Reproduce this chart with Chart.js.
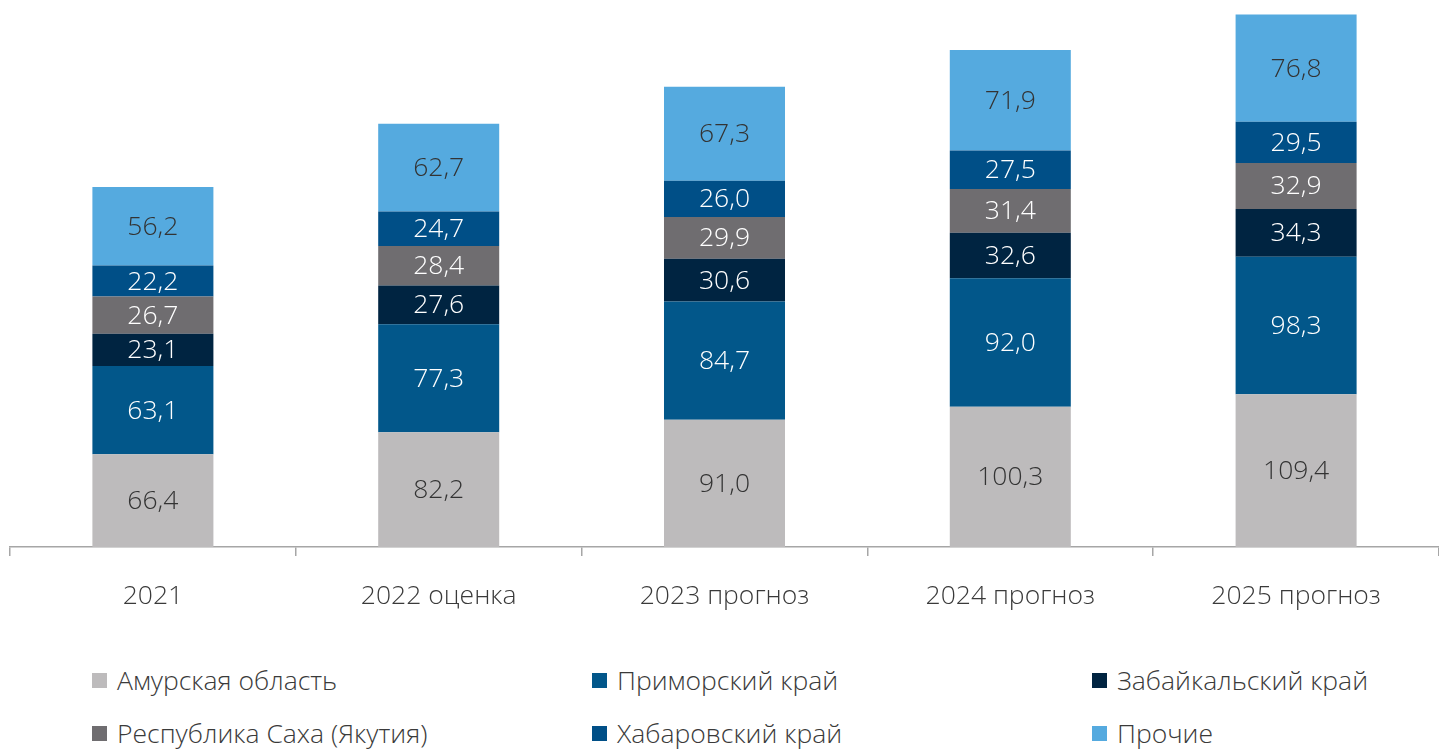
<!DOCTYPE html>
<html lang="ru">
<head>
<meta charset="utf-8">
<title>Регионы</title>
<script src="https://cdn.jsdelivr.net/npm/chart.js@4.4.1/dist/chart.umd.min.js"></script>
<style>
    html, body { margin: 0; padding: 0; background: #fff; }
    body { width: 1439px; height: 750px; position: relative; overflow: hidden;
           font-family: "Open Sans", sans-serif; font-weight: 300; }
    #wrap { position: absolute; left: 0; top: 0; width: 1439px; height: 640px; }
    #legend { position: absolute; left: 0; top: 654px; width: 1439px; }
    .item { position: absolute; display: flex; align-items: center; height: 40px;
            font-size: 26.5px; color: #3a3a3a; white-space: nowrap; }
    .item span.box { width: 15px; height: 15px; margin-right: 10px; flex: none; }
</style>
</head>
<body>
<div id="wrap"><canvas id="grafica"></canvas></div>
<div id="legend"></div>
<script>
// --- данные ---
const years = ["2021", "2022 оценка", "2023 прогноз", "2024 прогноз", "2025 прогноз"];

const amur       = [66.4, 82.2, 91.0, 100.3, 109.4];
const primorye   = [63.1, 77.3, 84.7, 92.0, 98.3];
const zabaikal   = [23.1, 27.6, 30.6, 32.6, 34.3];
const yakutia    = [26.7, 28.4, 29.9, 31.4, 32.9];
const khabarovsk = [22.2, 24.7, 26.0, 27.5, 29.5];
const others     = [56.2, 62.7, 67.3, 71.9, 76.8];

const seriesNames = ["Амурская область", "Приморский край", "Забайкальский край",
                     "Республика Саха (Якутия)", "Хабаровский край", "Прочие"];

const colors = ["#BDBBBC", "#02578A", "#002441", "#6F6D70", "#004F87", "#55AADF"];
const labelColors = ["#333333", "#ffffff", "#ffffff", "#ffffff", "#ffffff", "#333333"];

const FONT = "'Open Sans', sans-serif";

// подписи значений внутри сегментов
const segmentLabels = {
    id: "segmentLabels",
    afterDatasetsDraw(chart) {
        const ctx = chart.ctx;
        ctx.save();
        ctx.font = "300 26.5px " + FONT;
        ctx.textAlign = "center";
        ctx.textBaseline = "middle";
        chart.data.datasets.forEach((ds, i) => {
            const meta = chart.getDatasetMeta(i);
            meta.data.forEach((bar, j) => {
                const y = (bar.y + bar.base) / 2;
                ctx.fillStyle = labelColors[i];
                ctx.fillText(ds.data[j].toFixed(1).replace(".", ","), bar.x, y + 1);
            });
        });
        ctx.restore();
    }
};

const datasets = [amur, primorye, zabaikal, yakutia, khabarovsk, others].map((d, i) => ({
    label: seriesNames[i],
    data: d,
    backgroundColor: colors[i],
    borderWidth: 0,
    barPercentage: 0.4234,
    categoryPercentage: 1
}));

const chart = new Chart(document.getElementById("grafica"), {
    type: "bar",
    data: { labels: years, datasets },
    options: {
        responsive: true,
        maintainAspectRatio: false,
        animation: false,
        layout: { padding: { left: 10, right: 0, top: 0, bottom: 0 } },
        plugins: { legend: { display: false }, tooltip: { enabled: false } },
        scales: {
            x: {
                stacked: true,
                offset: true,
                border: { display: true, color: "#A6A6A6", width: 1.5 },
                grid: { offset: true, drawOnChartArea: false, drawTicks: true,
                        tickLength: 9, color: "#A6A6A6", lineWidth: 1.5 },
                ticks: { color: "#3a3a3a", padding: 25, font: { family: FONT, size: 26.5, weight: 300 } },
                afterFit(scale) { scale.height = 93; }
            },
            y: {
                stacked: true,
                display: false,
                min: 0,
                max: 391.5
            }
        }
    },
    plugins: [segmentLabels]
});

// легенда в html, 3 колонки
const legendEl = document.getElementById("legend");
const colLeft = [92, 592, 1092];
const rowTop = [6, 59];
chart.data.datasets.forEach((ds, k) => {
    const item = document.createElement("div");
    item.className = "item";
    item.style.left = colLeft[k % 3] + "px";
    item.style.top = rowTop[Math.floor(k / 3)] + "px";
    const box = document.createElement("span");
    box.className = "box";
    box.style.background = ds.backgroundColor;
    item.appendChild(box);
    item.appendChild(document.createTextNode(ds.label));
    legendEl.appendChild(item);
});
</script>
</body>
</html>
